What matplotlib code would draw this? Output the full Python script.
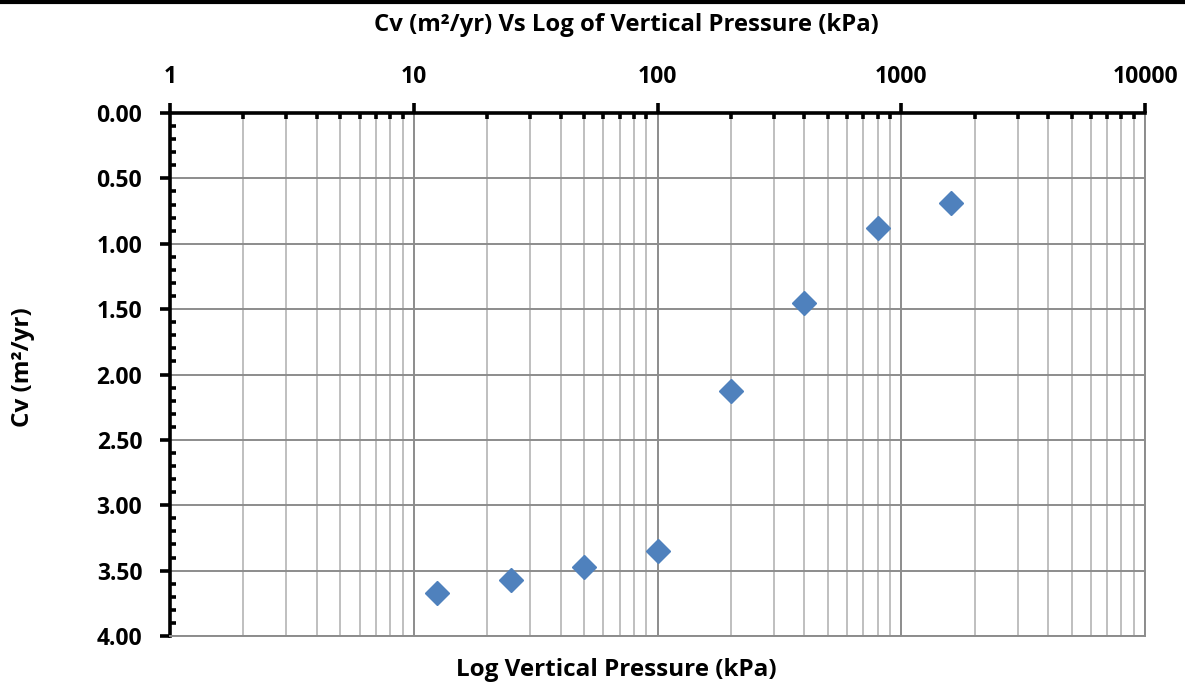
import matplotlib
matplotlib.use("Agg")
import matplotlib.pyplot as plt
from matplotlib.ticker import LogLocator, MultipleLocator, FormatStrFormatter, FuncFormatter

plt.rcParams['font.family'] = ['Open Sans', 'DejaVu Sans']
plt.rcParams['font.weight'] = 'bold'

# consolidation test: coefficient of consolidation per load stage
pressure_kpa = [12.5, 25, 50, 100, 200, 400, 800, 1600]
cv_m2_yr = [3.67, 3.57, 3.47, 3.35, 2.13, 1.45, 0.88, 0.69]

fig = plt.figure(figsize=(11.85, 6.86), dpi=100)
ax = fig.add_axes([170/1185, 1-636/686, 975/1185, 523/686])

ax.plot(pressure_kpa, cv_m2_yr, linestyle='none', marker='D', markersize=12,
        color='#4F81BD', markeredgecolor='#4F81BD', zorder=5)

ax.set_xscale('log')
ax.set_xlim(1, 10000)
ax.set_ylim(4, 0)

ax.xaxis.set_major_locator(LogLocator(base=10))
ax.xaxis.set_minor_locator(LogLocator(base=10, subs=range(2, 10)))
ax.xaxis.set_major_formatter(FuncFormatter(lambda v, p: f"{v:g}"))
ax.xaxis.set_minor_formatter(FuncFormatter(lambda v, p: ""))
ax.xaxis.tick_top()

ax.yaxis.set_major_locator(MultipleLocator(0.5))
ax.yaxis.set_minor_locator(MultipleLocator(0.1))
ax.yaxis.set_major_formatter(FormatStrFormatter('%.2f'))

ax.grid(which='major', color='#8C8C8C', linewidth=1.4)
ax.grid(which='minor', axis='x', color='#BFBFBF', linewidth=1.4)
ax.set_axisbelow(True)

for side in ('left', 'top'):
    ax.spines[side].set_linewidth(2.6)
    ax.spines[side].set_color('black')
for side in ('right', 'bottom'):
    ax.spines[side].set_linewidth(1.4)
    ax.spines[side].set_color('#8C8C8C')

ax.tick_params(which='major', direction='out', length=7, width=2.6,
               labelsize=16.5, pad=13, color='black')
ax.tick_params(which='minor', direction='in', length=4.5, width=2.6, color='black')
ax.tick_params(axis='x', which='major', pad=10)

ax.set_xlabel('Log Vertical Pressure (kPa)', fontsize=17.5, fontweight='bold')
ax.xaxis.set_label_position('bottom')
ax.xaxis.set_label_coords(0.458, -0.065)
ax.set_ylabel('Cv (m²/yr)', fontsize=17.5, fontweight='bold')
ax.yaxis.set_label_coords(-0.151, 0.514)
ax.xaxis.label.set_va('center')
ax.yaxis.label.set_va('center')

fig.text(626 / 1185, 1 - 25/686, 'Cv (m²/yr) Vs Log of Vertical Pressure (kPa)',
         ha='center', va='center', fontsize=17.2, fontweight='bold')

# rule along the top edge of the figure
fig.add_artist(plt.Line2D([0, 1], [1 - 1.5/686, 1 - 1.5/686], transform=fig.transFigure,
                          color='black', linewidth=3))

fig.savefig('out.png', dpi=100)
